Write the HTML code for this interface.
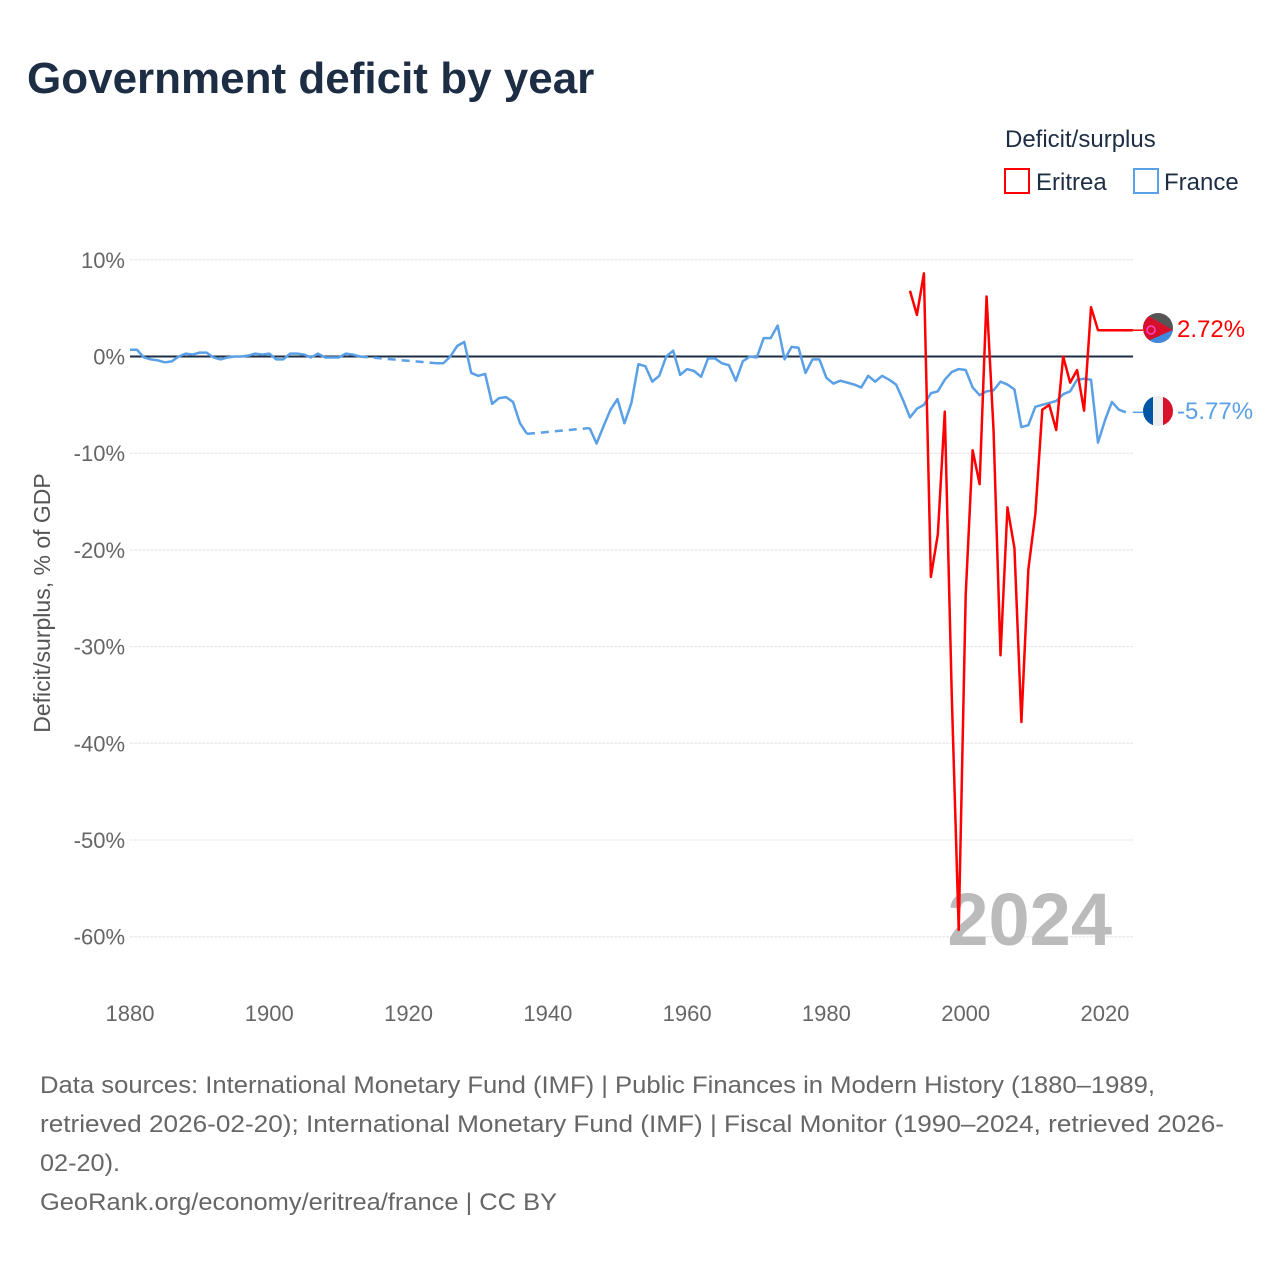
<!DOCTYPE html>
<html><head><meta charset="utf-8"><style>
body{margin:0;background:#fff;width:1280px;height:1280px;overflow:hidden;font-family:"Liberation Sans",sans-serif}
</style></head><body>
<svg id="chart" width="1280" height="1280" viewBox="0 0 1280 1280" xmlns="http://www.w3.org/2000/svg" font-family="Liberation Sans, sans-serif">
<text x="27" y="93" font-size="44" font-weight="bold" fill="#1d2d44">Government deficit by year</text>
<text x="1005" y="147" font-size="24" fill="#1d2d44">Deficit/surplus</text>
<g>
<rect x="1005" y="169" width="24" height="24" fill="none" stroke="#ff0000" stroke-width="2"/>
<text x="1036" y="190" font-size="24" fill="#1d2d44">Eritrea</text></g>
<g>
<rect x="1134" y="169" width="24" height="24" fill="none" stroke="#5aa0e6" stroke-width="2"/>
<text x="1164" y="190" font-size="24" fill="#1d2d44">France</text></g>
<g id="grid"></g><g id="yticks"></g><g id="xticks"></g>
<text transform="translate(50,603) rotate(-90)" text-anchor="middle" font-size="23" fill="#555">Deficit/surplus, % of GDP</text>
<text x="1112" y="945" text-anchor="end" font-size="74" font-weight="bold" fill="#bbb">2024</text>
<g id="series"></g>
<g>
<clipPath id="ce"><circle cx="1158" cy="328" r="15"/></clipPath>
<g clip-path="url(#ce)"><rect x="1143" y="313" width="30" height="30" fill="#555"/>
<polygon points="1143,313 1173,330 1143,343" fill="#d8102c"/><polygon points="1143,343 1173,330 1173,343" fill="#4189dd"/>
<circle cx="1151" cy="330" r="4" fill="none" stroke="#f4c" stroke-width="1.5"/></g></g>
<text x="1177" y="337" font-size="24" fill="#ff0000">2.72%</text>
<g>
<clipPath id="cf"><circle cx="1158" cy="411" r="15"/></clipPath>
<g clip-path="url(#cf)"><rect x="1143" y="396" width="10" height="30" fill="#0055a4"/><rect x="1153" y="396" width="10" height="30" fill="#eee"/><rect x="1163" y="396" width="10" height="30" fill="#d8102c"/></g></g>
<text x="1177" y="419" font-size="24" fill="#5aa0e6">-5.77%</text>
<g font-size="24" fill="#666">
<text x="40" y="1093" textLength="1115" lengthAdjust="spacingAndGlyphs">Data sources: International Monetary Fund (IMF) | Public Finances in Modern History (1880–1989,</text>
<text x="40" y="1132" textLength="1184" lengthAdjust="spacingAndGlyphs">retrieved 2026-02-20); International Monetary Fund (IMF) | Fiscal Monitor (1990–2024, retrieved 2026-</text>
<text x="40" y="1171" textLength="80" lengthAdjust="spacingAndGlyphs">02-20).</text>
<text x="40" y="1210" textLength="517" lengthAdjust="spacingAndGlyphs">GeoRank.org/economy/eritrea/france | CC BY</text></g>
</svg>
<script>
const yTicks=[10,0,-10,-20,-30,-40,-50,-60];
const xTicks=[1880,1900,1920,1940,1960,1980,2000,2020];
const eritreaYears=[1992,1993,1994,1995,1996,1997,1998,1999,2000,2001,2002,2003,2004,2005,2006,2007,2008,2009,2010,2011,2012,2013,2014,2015,2016,2017,2018,2019,2020,2021,2022,2023,2024];
const eritreaValues=[6.8,4.3,8.6,-22.8,-18.4,-5.7,-35,-59.3,-24.7,-9.7,-13.2,6.2,-7.6,-30.9,-15.6,-19.8,-37.8,-22,-16.3,-5.5,-5,-7.6,0,-2.7,-1.4,-5.6,5.1,2.72,2.72,2.72,2.72,2.72,2.72];
const franceYears=[1880,1881,1882,1883,1884,1885,1886,1887,1888,1889,1890,1891,1892,1893,1894,1895,1896,1897,1898,1899,1900,1901,1902,1903,1904,1905,1906,1907,1908,1909,1910,1911,1912,1913,1924,1925,1926,1927,1928,1929,1930,1931,1932,1933,1934,1935,1936,1937,1946,1947,1948,1949,1950,1951,1952,1953,1954,1955,1956,1957,1958,1959,1960,1961,1962,1963,1964,1965,1966,1967,1968,1969,1970,1971,1972,1973,1974,1975,1976,1977,1978,1979,1980,1981,1982,1983,1984,1985,1986,1987,1988,1989,1990,1991,1992,1993,1994,1995,1996,1997,1998,1999,2000,2001,2002,2003,2004,2005,2006,2007,2008,2009,2010,2011,2012,2013,2014,2015,2016,2017,2018,2019,2020,2021,2022,2023,2024];
const franceValues=[0.7,0.7,-0.1,-0.3,-0.4,-0.6,-0.5,0,0.3,0.2,0.4,0.4,-0.1,-0.3,-0.1,0,0,0.1,0.3,0.2,0.3,-0.3,-0.3,0.3,0.3,0.2,-0.1,0.3,-0.1,-0.1,-0.1,0.3,0.2,0,-0.7,-0.7,0,1.1,1.5,-1.7,-2.0,-1.8,-4.9,-4.3,-4.2,-4.7,-6.9,-8.0,-7.4,-9.0,-7.2,-5.5,-4.4,-6.9,-4.8,-0.8,-1.0,-2.6,-2.0,0,0.6,-1.9,-1.3,-1.5,-2.1,-0.2,-0.2,-0.7,-0.9,-2.5,-0.5,0,-0.1,1.9,1.9,3.2,-0.3,1.0,0.9,-1.7,-0.3,-0.3,-2.2,-2.8,-2.5,-2.7,-2.9,-3.2,-2.0,-2.6,-2.0,-2.4,-2.9,-4.5,-6.3,-5.4,-5.0,-3.8,-3.6,-2.4,-1.6,-1.3,-1.4,-3.2,-4.0,-3.6,-3.5,-2.6,-2.9,-3.4,-7.3,-7.1,-5.2,-5.0,-4.8,-4.6,-3.9,-3.6,-2.4,-2.3,-2.4,-8.9,-6.6,-4.7,-5.5,-5.77];
const X=y=>130+(y-1880)*6.964;
const Y=v=>356.5-v*9.67;
const NS="http://www.w3.org/2000/svg";
function mk(tag,attrs,parent){const e=document.createElementNS(NS,tag);for(const k in attrs)e.setAttribute(k,attrs[k]);parent.appendChild(e);return e;}
const grid=document.getElementById('grid'),yt=document.getElementById('yticks'),xt=document.getElementById('xticks'),ser=document.getElementById('series');
yTicks.forEach(t=>{
 const l=mk('line',{x1:130,x2:1133,y1:Y(t),y2:Y(t),stroke:t===0?'#1d2d44':'#e4e4e4','stroke-width':t===0?2:1,'stroke-dasharray':t===0?'':'3,1'},grid);
 
 
 const tx=mk('text',{x:125,y:Y(t)+8,'text-anchor':'end','font-size':22,fill:'#666'},yt);tx.textContent=t+'%';
 
 
});
xTicks.forEach(t=>{
 const tx=mk('text',{x:X(t),y:1021,'text-anchor':'middle','font-size':22,fill:'#666'},xt);tx.textContent=t;
 
 
});
function draw(years,vals,color,name){
 let seg=[];const segs=[];
 for(let i=0;i<years.length;i++){
  if(i>0&&years[i]-years[i-1]>1){segs.push({pts:seg,dash:false});segs.push({pts:[[years[i-1],vals[i-1]],[years[i],vals[i]]],dash:true});seg=[];}
  seg.push([years[i],vals[i]]);
 }
 segs.push({pts:seg,dash:false});
 segs.forEach(s=>{
  const p=mk('polyline',{points:s.pts.map(q=>X(q[0])+','+Y(q[1])).join(' '),fill:'none',stroke:color,'stroke-width':2.5,'stroke-linejoin':'round','stroke-dasharray':s.dash?'8,6':''},ser);
  
  
 });
}
draw(franceYears,franceValues,'#5aa0e6','france');
draw(eritreaYears,eritreaValues,'#ff0000','eritrea');
const c=mk('line',{x1:X(2024),x2:1143,y1:Y(2.72),y2:Y(2.72),stroke:'#ff0000','stroke-width':1.5},ser);


const c2=mk('line',{x1:X(2024),x2:1143,y1:Y(-5.77),y2:Y(-5.77),stroke:'#5aa0e6','stroke-width':1.5},ser);


</script>
</body></html>
